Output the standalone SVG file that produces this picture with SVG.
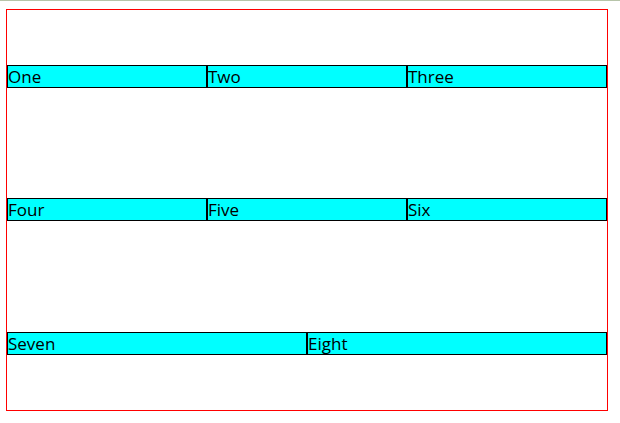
<svg xmlns="http://www.w3.org/2000/svg" width="620" height="423" viewBox="0 0 620 423">
<style>
.cell{fill:#00ffff;stroke:#000;stroke-width:1}
.t{font-family:"Open Sans","Noto Sans",sans-serif;font-size:17px;fill:#000}
</style>
<rect x="0" y="0" width="620" height="423" fill="#fff"/>
<line x1="0" y1="0.5" x2="620" y2="0.5" stroke="#b7c4a9" stroke-width="1"/>
<rect id="frame" x="6.5" y="9.5" width="601" height="401" fill="none" stroke="#ff0000" stroke-width="1"/>
<g id="one"><rect class="cell" x="7.5" y="65.5" width="199" height="22"/><text class="t" x="8" y="83">One</text></g>
<g id="two"><rect class="cell" x="207.5" y="65.5" width="199" height="22"/><text class="t" x="208" y="83">Two</text></g>
<g id="three"><rect class="cell" x="407.5" y="65.5" width="199" height="22"/><text class="t" x="408" y="83">Three</text></g>
<g id="four"><rect class="cell" x="7.5" y="198.5" width="199" height="22"/><text class="t" x="8" y="216">Four</text></g>
<g id="five"><rect class="cell" x="207.5" y="198.5" width="199" height="22"/><text class="t" x="208" y="216">Five</text></g>
<g id="six"><rect class="cell" x="407.5" y="198.5" width="199" height="22"/><text class="t" x="408" y="216">Six</text></g>
<g id="seven"><rect class="cell" x="7.5" y="332.5" width="299" height="22"/><text class="t" x="8" y="350">Seven</text></g>
<g id="eight"><rect class="cell" x="307.5" y="332.5" width="299" height="22"/><text class="t" x="308" y="350">Eight</text></g>
<g id="connectors"></g>
</svg>
